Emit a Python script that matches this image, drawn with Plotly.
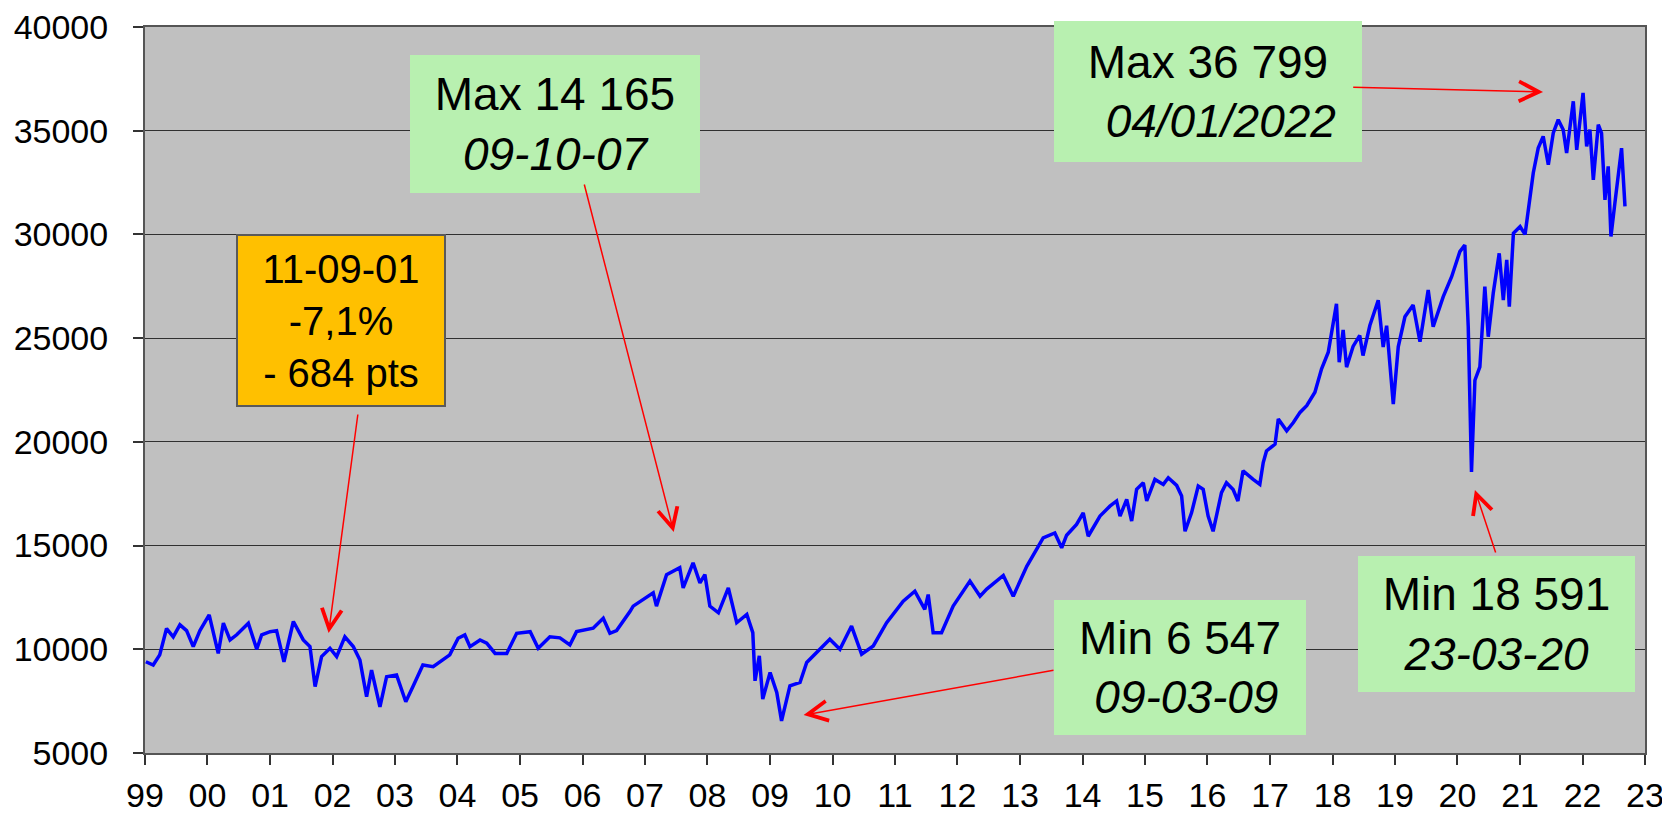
import plotly.graph_objects as go

dates = [
    "1999-01-06", "1999-02-18", "1999-03-28", "1999-05-07", "1999-06-15", "1999-07-24",
    "1999-09-01", "1999-10-10", "1999-11-18", "2000-01-11", "2000-03-04", "2000-04-03",
    "2000-05-12", "2000-06-20", "2000-08-27", "2000-10-15", "2000-11-13", "2001-01-01",
    "2001-02-08", "2001-03-23", "2001-05-17", "2001-07-14", "2001-08-22", "2001-09-21",
    "2001-10-29", "2001-12-17", "2002-01-25", "2002-03-14", "2002-05-02", "2002-06-10",
    "2002-07-19", "2002-08-17", "2002-10-05", "2002-11-13", "2003-01-10", "2003-03-05",
    "2003-04-16", "2003-06-13", "2003-08-12", "2003-10-09", "2003-11-17", "2004-01-05",
    "2004-02-13", "2004-03-14", "2004-05-12", "2004-06-20", "2004-08-08", "2004-10-15",
    "2004-12-12", "2005-03-01", "2005-04-17", "2005-06-24", "2005-08-22", "2005-10-19",
    "2005-11-27", "2006-03-04", "2006-05-02", "2006-06-10", "2006-07-19", "2006-10-05",
    "2006-10-24", "2007-02-18", "2007-03-09", "2007-05-07", "2007-07-23", "2007-08-12",
    "2007-10-09", "2007-11-18", "2007-12-17", "2008-01-15", "2008-03-05", "2008-05-02",
    "2008-06-20", "2008-08-18", "2008-09-22", "2008-10-05", "2008-10-30", "2008-11-19",
    "2009-01-01", "2009-02-09", "2009-03-09", "2009-04-27", "2009-06-25", "2009-08-03",
    "2009-10-19", "2009-12-16", "2010-02-13", "2010-04-22", "2010-06-20", "2010-08-27",
    "2010-11-13", "2011-02-18", "2011-04-27", "2011-06-24", "2011-07-14", "2011-08-12",
    "2011-09-30", "2011-12-07", "2012-03-14", "2012-05-12", "2012-06-20", "2012-09-25",
    "2012-11-22", "2013-02-09", "2013-05-16", "2013-07-23", "2013-09-01", "2013-09-30",
    "2013-11-27", "2014-01-05", "2014-02-03", "2014-04-13", "2014-06-10", "2014-07-19",
    "2014-08-08", "2014-09-16", "2014-10-15", "2014-11-13", "2014-12-22", "2015-01-11",
    "2015-02-28", "2015-04-18", "2015-05-17", "2015-07-05", "2015-08-03", "2015-08-23",
    "2015-09-30", "2015-11-08", "2015-12-07", "2016-01-05", "2016-02-03", "2016-03-23",
    "2016-04-21", "2016-05-30", "2016-06-27", "2016-07-27", "2016-09-24", "2016-11-02",
    "2016-11-22", "2016-12-11", "2017-01-30", "2017-02-18", "2017-04-08", "2017-05-17",
    "2017-06-25", "2017-08-03", "2017-09-20", "2017-10-29", "2017-12-07", "2018-01-05",
    "2018-01-24", "2018-02-09", "2018-03-04", "2018-03-24", "2018-05-01", "2018-06-09",
    "2018-06-28", "2018-08-07", "2018-09-25", "2018-10-24", "2018-11-13", "2018-12-22",
    "2019-01-20", "2019-02-28", "2019-04-17", "2019-05-27", "2019-07-14", "2019-08-12",
    "2019-10-10", "2019-11-28", "2020-01-15", "2020-02-13", "2020-03-04", "2020-03-23",
    "2020-04-12", "2020-05-11", "2020-06-09", "2020-06-29", "2020-07-28", "2020-09-01",
    "2020-09-25", "2020-10-15", "2020-10-30", "2020-11-23", "2021-01-01", "2021-01-30",
    "2021-02-28", "2021-03-19", "2021-04-17", "2021-05-16", "2021-06-15", "2021-07-14",
    "2021-08-12", "2021-09-10", "2021-09-30", "2021-11-08", "2021-11-28", "2022-01-04",
    "2022-01-25", "2022-02-13", "2022-03-05", "2022-04-03", "2022-04-22", "2022-05-12",
    "2022-05-31", "2022-06-16", "2022-07-09", "2022-07-28", "2022-08-17", "2022-09-06",
]
values = [
    9400, 9240, 9730, 11000, 10600, 11180,
    10900, 10130, 10900, 11660, 9800, 11260,
    10450, 10700, 11260, 10000, 10700, 10850,
    10900, 9400, 11340, 10450, 10130, 8200,
    9650, 10050, 9650, 10600, 10130, 9480,
    7710, 9000, 7225, 8680, 8760, 7470,
    8200, 9240, 9160, 9480, 9730, 10530,
    10690, 10130, 10450, 10300, 9800, 9800,
    10770, 10850, 10050, 10600, 10550, 10210,
    10850, 11020, 11500, 10770, 10900, 11820,
    12080, 12725, 12080, 13600, 13930, 12960,
    14170, 13200, 13600, 12080, 11760, 12960,
    11280, 11680, 10800, 8480, 9680, 7600,
    8880, 7920, 6550, 8240, 8400, 9360,
    10000, 10480, 10000, 11120, 9760, 10160,
    11280, 12320, 12800, 11920, 12640, 10800,
    10800, 12080, 13290, 12560, 12900, 13560,
    12560, 14000, 15370, 15610, 14890, 15500,
    16020, 16580, 15450, 16420, 16900, 17150,
    16420, 17230, 16180, 17710, 18030, 17150,
    18190, 17950, 18270, 17900, 17390, 15690,
    16580, 17870, 17710, 16420, 15690, 17550,
    18030, 17700, 17150, 18600, 18190, 17950,
    19000, 19560, 19890, 21100, 20530, 20930,
    21420, 21740, 22390, 23520, 24320, 25610,
    26660, 23840, 25400, 23600, 24600, 25130,
    24160, 25610, 26830, 24570, 25600, 21820,
    24580, 26030, 26600, 24830, 27320, 25550,
    27000, 27960, 29170, 29490, 25550, 18550,
    22970, 23620, 27480, 25070, 27160, 29090,
    26840, 28770, 26520, 30060, 30380, 30000,
    31670, 32960, 34160, 34730, 33360, 34890,
    35530, 35050, 33920, 36420, 34080, 36820,
    34240, 35050, 32630, 35290, 34890, 31670,
    33280, 29900, 31510, 32880, 34160, 31350,
]

years = list(range(1999, 2024))
tick_vals = [f"{y}-01-01" for y in years]
tick_text = [f"{y % 100:02d}" for y in years]

FONT = "Arial, 'Liberation Sans', sans-serif"
GREEN = "#B8F0B0"
ORANGE = "#FFC000"

# the html page puts the figure 8px in from the top-left corner
W, H = 1662, 806
OFF = 8
# plot area in page pixels: x 145..1645, y 27..753
L, R, T, B = 145 - OFF, 25, 27 - OFF, 61
PW, PH = W - L - R, H - T - B


def px(x):
    return (x - OFF - L) / PW


def py(y):
    return (T + PH - (y - OFF)) / PH


fig = go.Figure()
fig.add_trace(go.Scatter(
    x=dates, y=values, mode="lines",
    line=dict(color="#0000FF", width=3.5),
    hoverinfo="skip", showlegend=False,
))

# text boxes: (text, left, top, right, bottom, fill, font size, border)
boxes = [
    ("11-09-01<br>-7,1%<br>- 684 pts", 236, 234, 446, 407, ORANGE, 40, True),
    ("Max 14 165<br><i>09-10-07</i>", 410, 55, 700, 193, GREEN, 46, False),
    ("Max 36 799<br>&nbsp;&nbsp;<i>04/01/2022</i>", 1054, 21, 1362, 162, GREEN, 46, False),
    ("Min 6 547<br>&nbsp;<i>09-03-09</i>", 1054, 600, 1306, 735, GREEN, 46, False),
    ("Min 18 591<br><i>23-03-20</i>", 1358, 556, 1635, 692, GREEN, 46, False),
]
annotations = []
for text, x0, y0, x1, y1, fill, size, border in boxes:
    bw = 2 if border else 0
    annotations.append(dict(
        text=text, xref="paper", yref="paper",
        x=px((x0 + x1) / 2), y=py((y0 + y1) / 2),
        xanchor="center", yanchor="middle",
        width=x1 - x0 - 2 * bw, height=y1 - y0 - 2 * bw,
        align="center", valign="middle",
        bgcolor=fill, bordercolor="#5A5A5A", borderwidth=bw, borderpad=0,
        showarrow=False, font=dict(family=FONT, size=size, color="black"),
    ))

# red arrows: (tail date, tail value, tip date, tip value)
arrows = [
    ("2002-05-30", 21390, "2001-12-09", 10780),
    ("2006-01-09", 32480, "2007-06-18", 15650),
    ("2018-04-23", 37100, "2021-05-15", 36870),
    ("2013-07-24", 9000, "2009-07-16", 6830),
    ("2020-08-14", 14590, "2020-04-12", 17680),
]
for ax, ay, x, y in arrows:
    annotations.append(dict(
        text="", x=x, y=y, ax=ax, ay=ay, xref="x", yref="y", axref="x", ayref="y",
        showarrow=True, arrowhead=5, arrowsize=2.6, arrowwidth=1.5, arrowcolor="#FF0000",
        standoff=0, startstandoff=0,
    ))

fig.update_layout(
    width=W, height=H,
    margin=dict(l=L, r=R, t=T, b=B, autoexpand=False),
    paper_bgcolor="white", plot_bgcolor="#C0C0C0",
    font=dict(family=FONT, size=34, color="black"),
    annotations=annotations,
    showlegend=False,
)
fig.update_xaxes(
    type="date", range=["1999-01-01", "2023-01-01"],
    tickvals=tick_vals, ticktext=tick_text,
    ticks="outside", ticklen=10, tickwidth=1.5, tickcolor="#333333",
    showgrid=False, showline=True, linecolor="#555555", linewidth=2, mirror=True,
    tickfont=dict(size=34), ticklabelstandoff=1, ticklabeloverflow="allow",
)
fig.update_yaxes(
    range=[5000, 40000], dtick=5000, tick0=5000, tickformat="d",
    ticks="outside", ticklen=10, tickwidth=1.5, tickcolor="#333333",
    showgrid=True, gridcolor="#303030", gridwidth=1.3, zeroline=False,
    showline=True, linecolor="#555555", linewidth=2, mirror=True,
    tickfont=dict(size=34), ticklabelstandoff=18, ticklabeloverflow="allow",
)

fig.write_html("out.html")
